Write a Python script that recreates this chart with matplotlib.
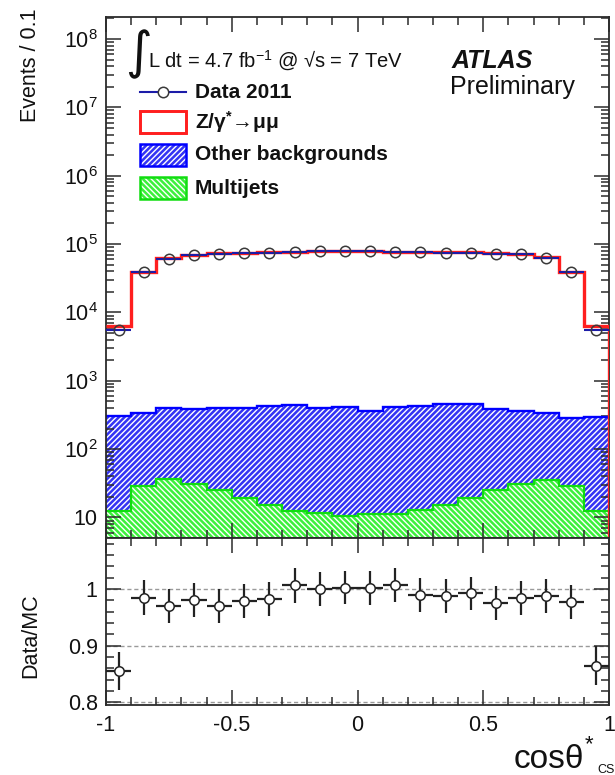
import numpy as np
import matplotlib
matplotlib.use("Agg")
import matplotlib.pyplot as plt
from matplotlib.ticker import (FixedLocator, MultipleLocator, LogLocator,
                               FuncFormatter, NullFormatter)
from matplotlib.patches import Rectangle
from matplotlib.lines import Line2D

plt.rcParams.update({
    "font.family": ["Liberation Sans", "DejaVu Sans"],
    "mathtext.fontset": "custom",
    "mathtext.rm": "Liberation Sans",
    "mathtext.it": "Liberation Sans:italic",
    "mathtext.bf": "Liberation Sans:bold",
    "mathtext.default": "regular",
    "axes.unicode_minus": False,
    "hatch.linewidth": 1.0,
})

# ---- binning in cos(theta*) (Collins-Soper frame) ----
cos_edges = np.round(np.arange(-1.0, 1.001, 0.1), 2)
cos_centers = 0.5 * (cos_edges[:-1] + cos_edges[1:])

# ---- stacked predictions (events / 0.1) ----
multijets = [12.5, 29, 36, 31, 25, 19.5, 15, 12.5, 11.8, 10.5,
             11.2, 11.2, 13, 15, 19.5, 25, 31, 35, 29, 12.5]
other_bkg = [288, 304, 359, 349, 380, 386, 418, 422, 393, 408,
             344, 407, 420, 440, 436, 355, 324, 298, 253, 278]
z_mumu = [6130, 38670, 62600, 69620, 72600, 74100, 75070, 76070, 77600, 78580,
          78150, 76580, 76070, 75550, 75050, 74120, 71150, 63670, 39220, 6070]

# ---- observed events 2011 ----
data_2011 = [5500, 38400, 61100, 68600, 70800, 72900, 74200, 77000, 78000, 79200,
             78700, 77600, 75700, 75000, 74900, 72600, 70400, 63200, 38600, 5500]

# ---- uncertainty on the Data/MC ratio ----
ratio_err = [0.033, 0.031, 0.030, 0.030, 0.030, 0.030, 0.030, 0.031, 0.030, 0.030,
             0.030, 0.030, 0.030, 0.030, 0.030, 0.030, 0.030, 0.030, 0.030, 0.034]

mj = np.array(multijets, float)
bkg_top = mj + np.array(other_bkg, float)
mc_total = bkg_top + np.array(z_mumu, float)
data = np.array(data_2011, float)
ratio = data / mc_total

# ---- figure layout (pixel helpers) ----
W, H = 615, 775
def fx(px):
    return px / W
def fy(py):
    return 1 - py / H

fig = plt.figure(figsize=(W / 100, H / 100), dpi=100)
x0, x1 = 106, 609
ax = fig.add_axes([fx(x0), fy(538), (x1 - x0) / W, (538 - 17) / H])
rax = fig.add_axes([fx(x0), fy(705), (x1 - x0) / W, (705 - 538) / H], sharex=ax)

FRAME = "#2b2b2b"
BLUE = "#3434f4"
GREEN = "#3cf03c"
RED = "#ff1f1f"
BLUE_HATCH = "//////"
GREEN_HATCH = "\\\\\\\\\\\\"
YMIN = 5

# ---- main panel ----
ax.set_yscale("log")
ax.set_xlim(-1, 1)
ax.set_ylim(YMIN, 2.1e8)

ax.stairs(mj, cos_edges, baseline=1, fill=True, facecolor=GREEN,
          edgecolor="white", hatch=GREEN_HATCH, linewidth=0, zorder=1)
ax.stairs(bkg_top, cos_edges, baseline=mj, fill=True, facecolor=BLUE,
          edgecolor="white", hatch=BLUE_HATCH, linewidth=0, zorder=1)
ax.stairs(mj, cos_edges, baseline=None, color="#10dd10", lw=1.6, zorder=2)
ax.stairs(bkg_top, cos_edges, baseline=None, color="#0000ff", lw=1.7, zorder=2)
ax.stairs(mc_total, cos_edges, baseline=None, color=RED, lw=2.4, zorder=3)
ax.vlines(cos_edges[-1], YMIN, mc_total[-1], color=RED, lw=2.4, zorder=3)

ax.errorbar(cos_centers, data, xerr=0.05, yerr=np.sqrt(data), fmt="none",
            ecolor="#1c1ca8", elinewidth=1.5, zorder=4)
ax.plot(cos_centers, data, "o", mfc="none", mec="#3a3a3a", ms=7.5, mew=1.1,
        zorder=5)

def log_label(v, pos):
    k = int(round(np.log10(v)))
    return "10" if k == 1 else r"$10^{%d}$" % k

ax.yaxis.set_major_locator(FixedLocator([10.0 ** k for k in range(1, 9)]))
ax.yaxis.set_minor_locator(LogLocator(base=10, subs=range(2, 10), numticks=30))
ax.yaxis.set_major_formatter(FuncFormatter(log_label))
ax.yaxis.set_minor_formatter(NullFormatter())
ax.xaxis.set_major_locator(MultipleLocator(0.5))
ax.xaxis.set_minor_locator(MultipleLocator(0.1))

for a in (ax, rax):
    a.tick_params(which="both", direction="in", top=True, right=True,
                  colors=FRAME, labelcolor="#111111", width=1.1)
    a.tick_params(which="major", length=11, labelsize=15.5, pad=6)
    a.tick_params(which="minor", length=5.5)
    for s in a.spines.values():
        s.set_color(FRAME)
        s.set_linewidth(1.3)
ax.tick_params(labelbottom=False)

# ---- ratio panel ----
rax.set_ylim(0.795, 1.09)
for lvl in (0.8, 0.9, 1.0):
    rax.axhline(lvl, color="#9a9a9a", lw=1.0, ls=(0, (3, 2)), zorder=0)
rax.errorbar(cos_centers, ratio, xerr=0.05, yerr=ratio_err, fmt="o",
             mfc="white", mec="#222222", mew=1.1, ms=6.8, ecolor="#222222",
             elinewidth=1.6, capsize=0, zorder=3)
rax.yaxis.set_major_locator(FixedLocator([0.8, 0.9, 1.0]))
rax.yaxis.set_minor_locator(MultipleLocator(0.02))
rax.yaxis.set_major_formatter(FuncFormatter(lambda v, p: "%g" % round(v, 2)))
rax.xaxis.set_major_formatter(FuncFormatter(lambda v, p: "%g" % round(v, 2)))
rax.tick_params(axis="x", which="major", pad=7)

# ---- axis titles ----
fig.text(fx(31), fy(8), "Events / 0.1", rotation=90, ha="center", va="top",
         fontsize=15.5, color="#111111")
fig.text(fx(31), fy(636), "Data/MC", rotation=90, ha="center", va="center",
         fontsize=15.5, color="#111111")
fig.text(fx(584), fy(768), "cosθ", ha="right", va="baseline", fontsize=24,
         color="#111111")
fig.text(fx(585), fy(750), "*", ha="left", va="baseline", fontsize=16,
         color="#111111")
fig.text(fx(597), fy(773), "CS", ha="left", va="baseline", fontsize=9,
         color="#111111")

# ---- annotations ----
fig.text(fx(125), fy(68), "∫", family="DejaVu Sans", fontsize=37,
         ha="left", va="baseline", color="#111111")
fig.text(fx(148), fy(68), r"L dt = 4.7 fb$^{-1}$ @ √s = 7 TeV",
         fontsize=14.5, ha="left", va="baseline", color="#111111")
fig.text(fx(452), fy(68), "ATLAS", fontsize=18, weight="bold", style="italic",
         ha="left", va="baseline", color="#111111")
fig.text(fx(450), fy(94), "Preliminary", fontsize=18, ha="left",
         va="baseline", color="#111111")

# ---- legend ----
lx0, lx1 = 140, 186
rows = [92, 122, 155, 188]
labels = ["Data 2011", r"Z/γ$^{*}$→μμ", "Other backgrounds", "Multijets"]
fig.add_artist(Line2D([fx(lx0), fx(lx1)], [fy(rows[0])] * 2, color="#1c1ca8",
                      lw=1.5, transform=fig.transFigure))
fig.add_artist(Line2D([fx((lx0 + lx1) / 2)], [fy(rows[0])], marker="o",
                      mfc="white", mec="#3a3a3a", ms=7.5, mew=1.1,
                      transform=fig.transFigure))
bh = 22
box_styles = [
    dict(facecolor="white", edgecolor=RED, lw=2.0),
    dict(facecolor=BLUE, edgecolor="white", hatch=BLUE_HATCH, lw=0),
    dict(facecolor=GREEN, edgecolor="white", hatch=GREEN_HATCH, lw=0),
]
box_edges = [RED, "#0000ff", "#10dd10"]
for yc, st, ec in zip(rows[1:], box_styles, box_edges):
    r = Rectangle((fx(lx0), fy(yc + bh / 2)), (lx1 - lx0) / W, bh / H,
                  transform=fig.transFigure, **st)
    fig.add_artist(r)
    fig.add_artist(Rectangle((fx(lx0), fy(yc + bh / 2)), (lx1 - lx0) / W,
                             bh / H, transform=fig.transFigure,
                             facecolor="none", edgecolor=ec, lw=1.8))
for yc, lab in zip(rows, labels):
    fig.text(fx(195), fy(yc), lab, fontsize=15, weight="bold", ha="left",
             va="center", color="#111111")

fig.savefig("out.png", dpi=100)
